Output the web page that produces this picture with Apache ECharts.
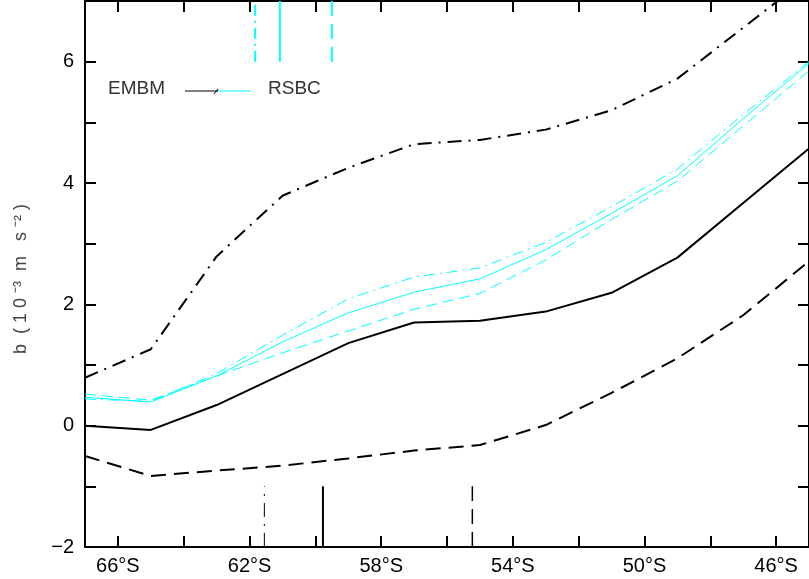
<!DOCTYPE html>
<html>
<head>
<meta charset="utf-8">
<script src="https://cdn.jsdelivr.net/npm/echarts@6/dist/echarts.min.js"></script>
<style>
  html, body { margin: 0; padding: 0; background: #fff; }
  #chart { width: 809px; height: 579px; }
</style>
</head>
<body>
<div id="chart"></div>
<script>
// Latitude grid (negative = degrees south)
const lat = [-67, -65, -63, -61, -59, -57, -55, -53, -51, -49, -47, -45];

// EMBM: central estimate and lower / upper bounds
const embmMean = [0.00, -0.07, 0.34, 0.85, 1.36, 1.70, 1.73, 1.88, 2.19, 2.77, 3.67, 4.57];
const embmLow  = [-0.50, -0.83, -0.74, -0.66, -0.54, -0.41, -0.32, 0.01, 0.54, 1.11, 1.82, 2.71];
const embmHigh = [0.79, 1.26, 2.79, 3.79, 4.25, 4.64, 4.71, 4.88, 5.20, 5.72, 6.56, 7.40];

// RSBC: central estimate and lower / upper bounds
const rsbcMean = [0.47, 0.39, 0.82, 1.38, 1.86, 2.20, 2.42, 2.90, 3.50, 4.12, 5.06, 5.97];
const rsbcLow  = [0.52, 0.42, 0.82, 1.20, 1.56, 1.92, 2.18, 2.73, 3.40, 4.03, 4.94, 5.85];
const rsbcHigh = [0.44, 0.40, 0.86, 1.49, 2.09, 2.45, 2.60, 3.02, 3.61, 4.23, 5.13, 6.00];

// Latitudes flagged by the short vertical markers
const rsbcMarks = { high: -61.83, mean: -61.08, low: -59.50 };   // drawn from b = 6 to 7
const embmMarks = { high: -61.55, mean: -59.77, low: -55.23 };   // drawn from b = -2 to -1

// Axis ticks and labels
const xTicks = [-66, -64, -62, -60, -58, -56, -54, -52, -50, -48, -46];
const xLabels = [-66, -62, -58, -54, -50, -46];
const yLabels = [-2, 0, 2, 4, 6];
const yTitle = 'b  ( 1 0 \u207B\u00B3  m   s \u207B\u00B2 )';

const BLACK = '#000000';
const CYAN = '#00ffff';
const DASH = [15, 8];
const DASHDOT = [14, 7, 2, 7];
const CDASH = [11, 6];
const CDASHDOT = [11, 5, 2, 5];
const FONT = '"Liberation Sans", Arial, sans-serif';

function pairs(ys) { return lat.map((x, i) => [x, ys[i]]); }

function curve(name, ys, color, width, dash) {
  return {
    name, type: 'line', data: pairs(ys), symbol: 'none', clip: true,
    lineStyle: { color, width, type: dash || 'solid' }, z: color === CYAN ? 4 : 3
  };
}

function marker(name, x, y0, y1, color, width, dash) {
  return {
    name, type: 'line', data: [[x, y0], [x, y1]], symbol: 'none', clip: true,
    lineStyle: { color, width, type: dash || 'solid' }
  };
}

const chart = echarts.init(document.getElementById('chart'), null, { renderer: 'canvas' });

const axisLine = { show: true, onZero: false, lineStyle: { color: BLACK, width: 2 } };
const tickStyle = { show: true, inside: true, length: 11, lineStyle: { color: BLACK, width: 2 } };

chart.setOption({
  animation: false,
  backgroundColor: '#ffffff',
  grid: { left: 85, top: 1, width: 728, height: 546, containLabel: false },
  xAxis: [
    {
      type: 'value', position: 'bottom', min: -67, max: -45,
      axisLine, splitLine: { show: false },
      axisTick: Object.assign({}, tickStyle, { customValues: xTicks }),
      axisLabel: {
        customValues: xLabels, margin: 9, color: BLACK, fontSize: 20, fontFamily: FONT,
        formatter: v => Math.abs(v) + '°S'
      }
    },
    {
      type: 'value', position: 'top', min: -67, max: -45,
      axisLine, splitLine: { show: false },
      axisTick: Object.assign({}, tickStyle, { customValues: xTicks }),
      axisLabel: { show: false }
    }
  ],
  yAxis: [
    {
      type: 'value', position: 'left', min: -2, max: 7, interval: 1,
      axisLine, axisTick: tickStyle, splitLine: { show: false },
      axisLabel: {
        customValues: yLabels, margin: 11, color: BLACK, fontSize: 20, fontFamily: FONT,
        formatter: v => (v < 0 ? '\u2212' + Math.abs(v) : String(v))
      },
      name: yTitle,
      nameLocation: 'middle', nameRotate: 90, nameGap: 55,
      nameTextStyle: { color: '#444', fontSize: 18, fontFamily: FONT, padding: [0, 10, 0, 0] }
    },
    {
      type: 'value', position: 'right', min: -2, max: 7, interval: 1,
      axisLine, axisTick: tickStyle, splitLine: { show: false },
      axisLabel: { show: false }
    }
  ],
  graphic: [
    {
      type: 'text', x: 108, y: 89,
      style: { text: 'EMBM', fill: '#333', fontSize: 19, fontFamily: FONT, verticalAlign: 'middle' }
    },
    {
      type: 'line', shape: { x1: 185, y1: 91, x2: 218, y2: 91 },
      style: { stroke: BLACK, lineWidth: 1 }
    },
    {
      type: 'line', shape: { x1: 214, y1: 94, x2: 218, y2: 89 },
      style: { stroke: BLACK, lineWidth: 1 }
    },
    {
      type: 'line', shape: { x1: 218, y1: 91, x2: 251, y2: 91 },
      style: { stroke: CYAN, lineWidth: 1 }
    },
    {
      type: 'text', x: 268, y: 89,
      style: { text: 'RSBC', fill: '#333', fontSize: 19, fontFamily: FONT, verticalAlign: 'middle' }
    }
  ],
  series: [
    curve('EMBM', embmMean, BLACK, 2),
    curve('EMBM low', embmLow, BLACK, 2, DASH),
    curve('EMBM high', embmHigh, BLACK, 2, DASHDOT),
    curve('RSBC', rsbcMean, CYAN, 1),
    curve('RSBC low', rsbcLow, CYAN, 1, CDASH),
    curve('RSBC high', rsbcHigh, CYAN, 1, CDASHDOT),
    marker('RSBC high mark', rsbcMarks.high, 6, 7, CYAN, 2, CDASHDOT),
    marker('RSBC mark', rsbcMarks.mean, 6, 7, CYAN, 2),
    marker('RSBC low mark', rsbcMarks.low, 6, 7, CYAN, 2, DASH),
    marker('EMBM high mark', embmMarks.high, -2, -1, BLACK, 1, DASHDOT),
    marker('EMBM mark', embmMarks.mean, -2, -1, BLACK, 2),
    marker('EMBM low mark', embmMarks.low, -2, -1, BLACK, 1.5, DASH)
  ]
});
</script>
</body>
</html>
